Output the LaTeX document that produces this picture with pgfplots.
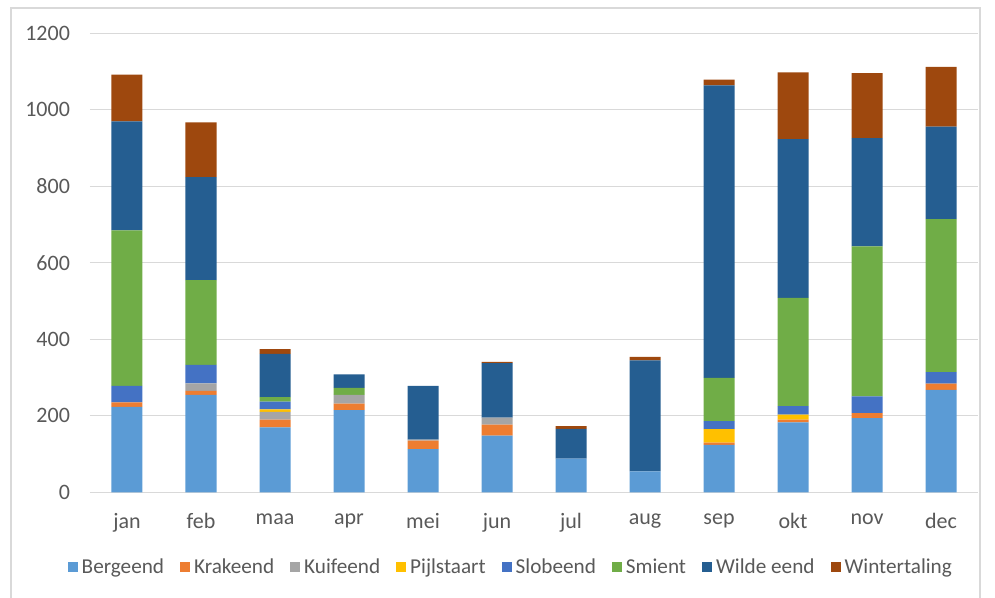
\documentclass[border=0pt]{standalone}
\usepackage{pgfplots}
\pgfplotsset{compat=1.18}
\usepackage{pgfplotstable}
\usepackage{fontspec}
\setmainfont{Carlito}

\definecolor{cBerg}{HTML}{5B9BD5}
\definecolor{cKrak}{HTML}{ED7D31}
\definecolor{cKuif}{HTML}{A5A5A5}
\definecolor{cPijl}{HTML}{FFC000}
\definecolor{cSlob}{HTML}{4472C4}
\definecolor{cSmie}{HTML}{70AD47}
\definecolor{cWild}{HTML}{255E91}
\definecolor{cWint}{HTML}{9E480E}
\definecolor{gridgrey}{HTML}{D9D9D9}
\definecolor{txtgrey}{HTML}{595959}

% monthly counts per species (0 = jan ... 11 = dec)
\pgfplotstableread{
x  Berg Krak Kuif Pijl Slob Smient Wilde Wint
0  223  12   0    0    43   407    285   122
1  255  10   20   0    48   222    269   143
2  170  20   20   7    20   12     113   12
3  215  17   23   0    0    18     35    0
4  113  22   3    0    0    0      140   0
5  148  29   18   0    0    0      143   3
6  88   0    0    0    0    0      78    7
7  55   0    0    0    0    0      290   9
8  124  6    0    35   21   113    765   15
9  183  7    0    13   22   283    415   175
10 194  13   0    0    44   392    283   170
11 268  16   0    0    30   400    242   156
}\eenden

\begin{document}
\begin{tikzpicture}
\path[use as bounding box] (-45pt,-52.85pt) rectangle (452.5pt,246.15pt);
\draw[gridgrey, line width=0.8pt] (-39.5pt,-60pt) -- (-39.5pt,242.15pt) -- (445pt,242.15pt) -- (445pt,-60pt);
\begin{axis}[
  scale only axis,
  width=444pt, height=229.5pt,
  ybar stacked, bar width=15.5pt,
  xmin=-0.5, xmax=11.5, ymin=0, ymax=1200,
  xtick={0,...,11},
  xticklabels={jan,feb,maa,apr,mei,jun,jul,aug,sep,okt,nov,dec},
  ytick={0,200,...,1200},
  ymajorgrids,
  grid style={draw=gridgrey, line width=0.6pt},
  axis line style={draw=none},
  major tick length=0pt,
  tick label style={font=\fontsize{11}{13}\selectfont, text=txtgrey},
  /pgf/number format/assume math mode=true,
  /pgf/number format/1000 sep={},
  yticklabel style={xshift=-6.5pt},
  xticklabel style={yshift=-7pt},
  legend columns=-1,
  legend style={at={(0.475,-0.1634)}, anchor=center, draw=none,
    font=\fontsize{10.6}{12}\selectfont, text=txtgrey,
    /tikz/every even column/.append style={column sep=6pt}},
  every axis plot post/.append style={draw=none,
    legend image code/.code={\fill[##1] (0pt,-2.5pt) rectangle (5pt,2.5pt);}},
]
\addplot[fill=cBerg] table[x=x,y=Berg] {\eenden};
\addlegendentry{Bergeend}
\addplot[fill=cKrak] table[x=x,y=Krak] {\eenden};
\addlegendentry{Krakeend}
\addplot[fill=cKuif] table[x=x,y=Kuif] {\eenden};
\addlegendentry{Kuifeend}
\addplot[fill=cPijl] table[x=x,y=Pijl] {\eenden};
\addlegendentry{Pijlstaart}
\addplot[fill=cSlob] table[x=x,y=Slob] {\eenden};
\addlegendentry{Slobeend}
\addplot[fill=cSmie] table[x=x,y=Smient] {\eenden};
\addlegendentry{Smient}
\addplot[fill=cWild] table[x=x,y=Wilde] {\eenden};
\addlegendentry{Wilde eend}
\addplot[fill=cWint] table[x=x,y=Wint] {\eenden};
\addlegendentry{Wintertaling}
\end{axis}
\end{tikzpicture}
\end{document}
